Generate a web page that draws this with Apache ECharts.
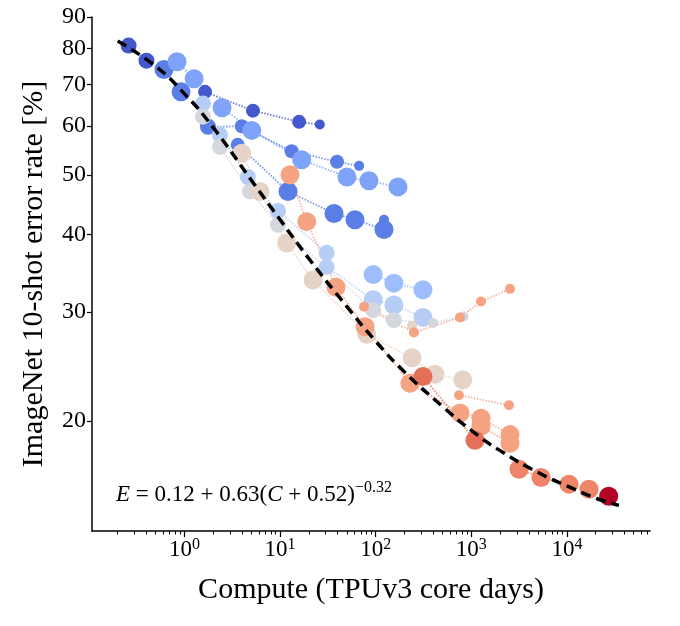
<!DOCTYPE html>
<html><head><meta charset="utf-8">
<script src="https://cdn.jsdelivr.net/npm/echarts@6/dist/echarts.min.js"></script>
<style>html,body{margin:0;padding:0;background:#fff}#c{width:680px;height:626px}</style>
</head><body><div id="c"></div>
<script>
// ---- data: [compute (TPUv3 core days), 10-shot error (%), dataset size (M images)] ----
const m1a = [[0.26,80.9,1000],[0.40,76.5,1000]];
const m1b = [[1.64,68.1,300],[5.2,63.5,300],[15.8,60.9,300],[26,60.3,30]];
const m2a = [[0.61,74.0,3000],[0.92,68.1,3000]];
const m2b = [[1.76,59.8,1000],[3.97,59.9,300],[13.2,54.6,300],[39.4,52.5,300],[67,51.7,30]];
const m2c = [[3.6,55.9,300],[12.1,47.0,3000],[36.6,43.3,3000],[60.7,42.3,3000],[122,40.8,3000]];
const m2d = [[122,42.3,30]];
const m3a = [[0.835,76.2,3000],[1.26,71.5,3000]];
const m3b = [[2.47,64.2,3000],[5.05,59.0,3000],[16.8,52.9,3000],[50,49.6,3000],[85,48.9,3000],[171,47.8,3000]];
const m3c = [[94,34.5,3000],[155,33.4,3000],[312,32.6,3000]];
const m4a = [[1.56,65.2,1000],[2.35,58.0,1000],[4.6,49.6,1000],[9.5,43.7,1000],[30.7,37.4,1000]];
const m4b = [[30.7,35.5,1000],[94,31.4,3000],[155,30.8,3000],[312,29.4,3000]];
const m5a = [[1.56,62.1,1000],[2.35,55.5,1000],[4.84,47.0,1000],[9.5,41.5,1000],[94,30.2,1000],[155,29.1,1000],[398,28.8,30],[830,29.5,30]];
const m6a = [[3.97,54.2,3000],[6.16,47.0,3000],[11.7,38.8,3000],[22.1,33.8,3000],[80.5,27.6,3000],[240,25.3,3000],[417,23.8,3000],[813,23.3,3000]];
const m6b = [[240,28.5,30]];
const m7a = [[12.7,50.0,3000],[19.0,42.0,3000],[38.4,32.9,3000],[77.3,28.4,3000],[228,23.0,3000],[762,20.6,3000],[1263,20.2,3000],[2540,19.0,3000]];
const m7b = [[1263,19.6,3000],[2540,18.4,3000]];
const m7c = [[75.5,30.6,30],[251,27.8,30],[762,29.4,30],[1263,31.2,30],[2540,32.7,30]];
const m7d = [[743,22.0,30],[2479,21.2,30]];
const m8a = [[312,23.6,3000],[1093,18.6,3000]];
const m8b = [[3155,16.7,3000],[5358,16.2,3000],[10520,15.8,3000],[17030,15.5,3000]];
const m9a = [[27360,15.1,3000]];

// fitted curve
const fitCompute = [0.2, 0.5, 1, 2, 5, 10, 20, 50, 100, 200, 500, 1000, 2000, 5000, 10000, 20000, 35000];
const fitError   = [82.3, 74.9, 67.6, 59.6, 49.0, 42.3, 36.6, 30.6, 26.9, 24.0, 21.1, 19.3, 17.9, 16.5, 15.7, 15.0, 14.6];

// axes / ticks
const X_MIN = 0.1077, X_MAX = 74000, Y_MIN = 13.27, Y_MAX = 90;
const xMajorTicks = [1, 10, 100, 1000, 10000];
const xMinorTicks = [0.2,0.3,0.4,0.5,0.6,0.7,0.8,0.9,2,3,4,5,6,7,8,9,20,30,40,50,60,70,80,90,
  200,300,400,500,600,700,800,900,2000,3000,4000,5000,6000,7000,8000,9000,20000,30000,40000,50000,60000,70000];
const yTickLabels = [20, 30, 40, 50, 60, 70, 80, 90];

// ---- styling ----
const F = '"Liberation Serif","DejaVu Serif",serif';
const modelColor = {
  m1a:'#4358cb', m1b:'#4358cb',
  m2a:'#5b7de6', m2b:'#5b7de6', m2c:'#5b7de6', m2d:'#5b7de6',
  m3a:'#7fa3f8', m3b:'#7fa3f8', m3c:'#9dbdfc',
  m4a:'#b6cdf5', m4b:'#b6cdf5',
  m5a:'#d4d7dd',
  m6a:'#e6d3c7', m6b:'#e6d3c7',
  m7a:'#f5a383', m7b:'#f5a383', m7c:'#f5a383', m7d:'#f5a383',
  m8a:'#e4705a', m8b:'#ee8468',
  m9a:'#b40426'
};
const chains = {m1a,m1b,m2a,m2b,m2c,m2d,m3a,m3b,m3c,m4a,m4b,m5a,m6a,m6b,m7a,m7b,m7c,m7d,m8a,m8b,m9a};
const dsSize = {30:10, 300:14, 1000:16, 3000:19};
const lg = Math.log10;

const series = [];
Object.keys(chains).forEach(k => {
  const d = chains[k];
  if (d.length > 1) series.push({
    type:'line', data:d.map(p=>[p[0],p[1]]), symbol:'none', silent:true, z:1,
    lineStyle:{color:modelColor[k], width:1.8, type:[1.5,1.5], opacity:0.8}
  });
});
Object.keys(chains).forEach(k => {
  series.push({
    type:'scatter', data:chains[k], z:2, silent:true,
    symbolSize:(v)=>dsSize[v[2]],
    itemStyle:{color:modelColor[k], opacity:1}
  });
});
series.push({
  type:'line', data:fitCompute.map((c,i)=>[c,fitError[i]]), symbol:'none', z:5, silent:true,
  smooth:0.5,
  lineStyle:{color:'#000', width:3.5, type:[10,6]}
});

const chart = echarts.init(document.getElementById('c'), null, {renderer:'canvas'});
chart.setOption({
  animation:false,
  backgroundColor:'#fff',
  grid:{left:92, right:30, top:17, bottom:95, containLabel:false, outerBoundsMode:'none'},
  xAxis:[
    {type:'log', logBase:10, min:X_MIN, max:X_MAX,
     name:'Compute (TPUv3 core days)', nameLocation:'middle', nameGap:44,
     nameTextStyle:{fontFamily:F, fontSize:30, color:'#000'},
     axisLine:{show:true, onZero:false, lineStyle:{color:'#000', width:1.5}},
     axisTick:{show:false}, axisLabel:{show:false}, splitLine:{show:false}, minorTick:{show:false}},
    {type:'value', min:lg(X_MIN), max:lg(X_MAX), position:'bottom',
     axisLine:{show:false, onZero:false}, splitLine:{show:false},
     axisTick:{show:true, customValues:xMajorTicks.map(lg), length:6, lineStyle:{color:'#000', width:1.2}},
     axisLabel:{show:true, customValues:xMajorTicks.map(lg), margin:6,
       formatter:(v)=>'{b|10}{s|'+Math.round(v)+'}',
       rich:{b:{fontFamily:F, fontSize:23, color:'#000', lineHeight:26},
             s:{fontFamily:F, fontSize:16, color:'#000', verticalAlign:'top', lineHeight:26}}}},
    {type:'value', min:lg(X_MIN), max:lg(X_MAX), position:'bottom',
     axisLine:{show:false, onZero:false}, splitLine:{show:false}, axisLabel:{show:false},
     axisTick:{show:true, customValues:xMinorTicks.map(lg), length:3.5, lineStyle:{color:'#000', width:1}}}
  ],
  yAxis:[
    {type:'log', logBase:10, min:Y_MIN, max:Y_MAX,
     name:'ImageNet 10-shot error rate [%]', nameLocation:'middle', nameGap:43, nameRotate:90,
     nameTextStyle:{fontFamily:F, fontSize:30, color:'#000'},
     axisLine:{show:true, onZero:false, lineStyle:{color:'#000', width:1.5}},
     axisTick:{show:false}, axisLabel:{show:false}, splitLine:{show:false}, minorTick:{show:false}},
    {type:'value', min:lg(Y_MIN), max:lg(Y_MAX), position:'left',
     axisLine:{show:false, onZero:false}, splitLine:{show:false},
     axisTick:{show:true, customValues:yTickLabels.map(lg), length:5, lineStyle:{color:'#000', width:1.2}},
     axisLabel:{show:true, customValues:yTickLabels.map(lg), margin:6,
       formatter:(v)=>String(Math.round(Math.pow(10,v))),
       fontFamily:F, fontSize:24, color:'#000'}}
  ],
  series:series,
  graphic:[{
    type:'text', left:116, top:480, silent:true,
    style:{
      text:'{i|E}{n| = 0.12 + 0.63(}{i|C}{n| + 0.52)}{s|\u22120.32}',
      rich:{
        i:{fontFamily:F, fontSize:23, fontStyle:'italic', fill:'#000', lineHeight:29},
        n:{fontFamily:F, fontSize:23, fill:'#000', lineHeight:29},
        s:{fontFamily:F, fontSize:16, fill:'#000', verticalAlign:'top', lineHeight:29}
      }
    }
  }]
});
</script></body></html>
